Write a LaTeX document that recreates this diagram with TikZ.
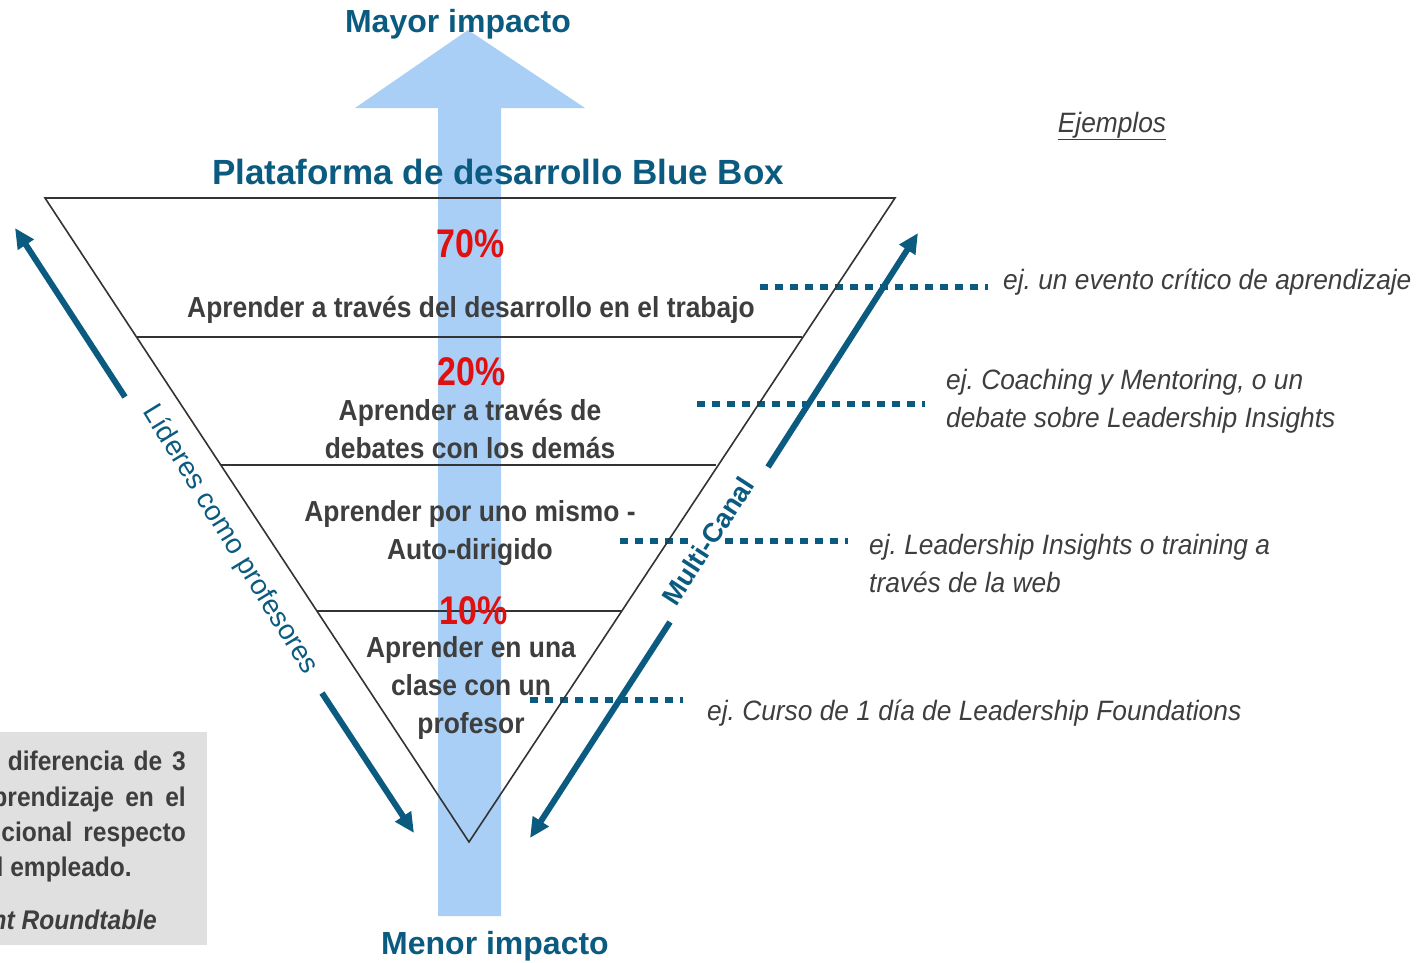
\documentclass[tikz,border=0pt]{standalone}
\usepackage{fontspec}
\setmainfont{Liberation Sans}
\newfontfamily\nar[FakeStretch=0.91]{Liberation Sans}
\newfontfamily\narex[FakeStretch=0.94]{Liberation Sans}
\newfontfamily\narr[FakeStretch=0.85]{Liberation Sans}
\usetikzlibrary{arrows.meta}
\definecolor{teal1}{RGB}{11,91,128}
\definecolor{txtgray}{RGB}{62,62,62}
\definecolor{pctred}{RGB}{224,16,16}
\definecolor{lblue}{RGB}{169,207,246}
\definecolor{boxgray}{RGB}{224,224,224}
\definecolor{linegray}{RGB}{51,51,51}
\frenchspacing
\begin{document}
\frenchspacing
\begin{tikzpicture}[x=1pt,y=-1pt,
  body/.style={font=\nar\bfseries\fontsize{29}{38}\selectfont, text=txtgray, align=center, inner sep=0pt},
  pct/.style={font=\narr\bfseries\fontsize{40}{40}\selectfont, text=pctred, inner sep=0pt},
  example/.style={font=\narex\itshape\fontsize{28}{38}\selectfont, text=txtgray, align=left, inner sep=0pt, anchor=west},
  impact/.style={font=\bfseries\fontsize{32}{32}\selectfont, text=teal1, inner sep=0pt},
  bigarrow/.style={line width=6pt, draw=teal1, -{Triangle[length=20pt,width=18pt]}},
  dotline/.style={line width=6pt, draw=teal1, dash pattern=on 8pt off 7pt},
  tri/.style={draw=linegray, line width=1.6pt, line join=miter},
  sep/.style={draw=linegray, line width=2.2pt},
  boxtext/.style={font=\nar\bfseries\fontsize{27}{35}\selectfont, text=txtgray, inner sep=0pt}
]
\useasboundingbox (0,0) rectangle (1423,962);
% big light blue arrow
\fill[lblue] (438,916) -- (438,108) -- (355,108) -- (468,30) -- (585,108) -- (501,108) -- (501,916) -- cycle;

% grey box bottom-left
\fill[boxgray] (0,732) rectangle (207,945);
\begin{scope}
\clip (0,732) rectangle (207,945);
\node[boxtext, anchor=base east] (b1) at (186,770) {\makebox[178pt][s]{diferencia de 3}};
\node[boxtext, anchor=base east] (b2) at (186,806) {\makebox[207pt][s]{aprendizaje en el}};
\node[boxtext, anchor=base east] (b3) at (186,841) {tradicional\hspace{11pt}respecto};
\node[boxtext, anchor=base east] (b4) at (132,876) {del empleado.};
\node[boxtext, anchor=base east, font=\nar\bfseries\itshape\fontsize{27}{35}\selectfont] (b5) at (157,929) {Development Roundtable};
\end{scope}

% dotted connectors
\coordinate (d1a) at (760,287); \coordinate (d1b) at (988,287);
\coordinate (d2a) at (697,404); \coordinate (d2b) at (925,404);
\coordinate (d3a) at (620,541); \coordinate (d3b) at (848,541);
\coordinate (d4a) at (530,700); \coordinate (d4b) at (683,700);
\draw[dotline] (d1a) -- (d1b);
\draw[dotline] (d2a) -- (d2b);
\draw[dotline] (d3a) -- (d3b);
\draw[dotline] (d4a) -- (d4b);

% side arrows
\coordinate (la1) at (125,397); \coordinate (la2) at (15,228);
\coordinate (lb1) at (322,693); \coordinate (lb2) at (414,833);
\coordinate (ra1) at (768,467); \coordinate (ra2) at (918,233);
\coordinate (rb1) at (670,622); \coordinate (rb2) at (530,838);
\draw[bigarrow] (la1) -- (la2);
\draw[bigarrow] (lb1) -- (lb2);
\draw[bigarrow] (ra1) -- (ra2);
\draw[bigarrow] (rb1) -- (rb2);

\node[rotate=-58.5, font=\fontsize{28}{28}\selectfont, text=teal1, inner sep=0pt] (lid) at (230,540) {Líderes como profesores};
\node[rotate=57, font=\bfseries\fontsize{27}{27}\selectfont, text=teal1, fill=white, inner sep=3pt] (mc) at (708,541) {Multi-Canal};

% inverted triangle
\coordinate (tl) at (45,198); \coordinate (tr) at (895,198); \coordinate (tb) at (469,842);
\draw[tri] (tl) -- (tr) -- (tb) -- cycle;
\coordinate (s1a) at (137,337); \coordinate (s1b) at (802,337);
\coordinate (s2a) at (221,465); \coordinate (s2b) at (716,465);
\coordinate (s3a) at (317,611); \coordinate (s3b) at (622,611);
\draw[sep] (s1a) -- (s1b);
\draw[sep] (s2a) -- (s2b);
\draw[sep] (s3a) -- (s3b);

% titles
\node[impact] (mayor) at (458,24) {Mayor impacto};
\node[impact] (menor) at (495,946) {Menor impacto};
\node[font=\bfseries\fontsize{35}{35}\selectfont, text=teal1, inner sep=0pt] (title) at (498,172) {Plataforma de desarrollo Blue Box};

% levels
\node[pct] (p70) at (471,244) {70\%};
\node[body] (t1) at (471,310) {Aprender a través del desarrollo en el trabajo};
\node[pct] (p20) at (472,372) {20\%};
\node[body] (t2) at (470,429) {Aprender a través de\\debates con los demás};
\node[body] (t3) at (470,533) {Aprender por uno mismo -\\Auto-dirigido};
\node[pct] (p10) at (474,611) {10\%};
\node[body] (t4) at (471,688) {Aprender en una\\clase con un\\profesor};

% examples
\node[example, anchor=center] (ejem) at (1112,126) {\underline{Ejemplos}};
\node[example] (e1) at (1003,282) {ej. un evento crítico de aprendizaje};
\node[example] (e2) at (946,401) {ej. Coaching y Mentoring, o un\\debate sobre Leadership Insights};
\node[example] (e3) at (869,563) {ej. Leadership Insights o training a\\través de la web};
\node[example] (e4) at (707,713) {ej. Curso de 1 día de Leadership Foundations};
\end{tikzpicture}
\end{document}
